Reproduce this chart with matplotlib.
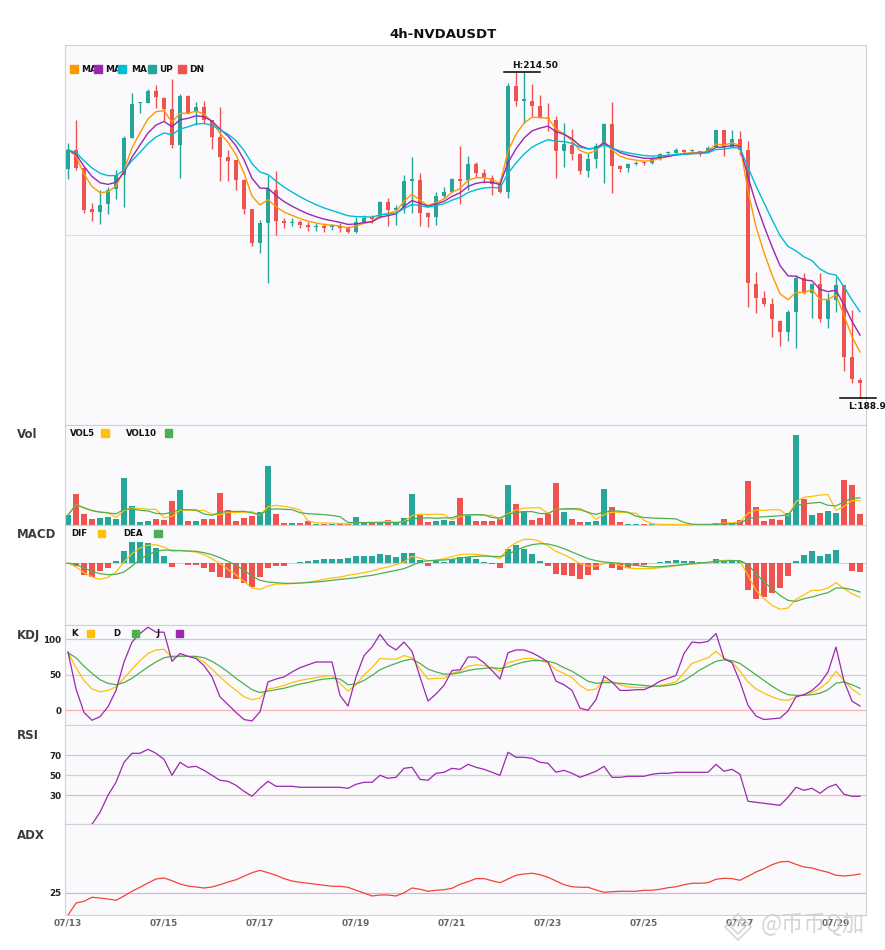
import matplotlib
matplotlib.use('Agg')
import matplotlib.pyplot as plt
from matplotlib.patches import Rectangle
from matplotlib.lines import Line2D
import numpy as np
import pandas as pd

plt.rcParams['font.family'] = ['DejaVu Sans']

W, H = 885, 950

# ---------------- data ----------------
date_labels = ['07/13', '07/15', '07/17', '07/19', '07/21', '07/23', '07/25', '07/27', '07/29']
date_pos = [0, 12, 24, 36, 48, 60, 72, 84, 96]

opens = [206.85, 208.37, 206.93, 203.74, 203.53, 204.11, 205.28, 206.41, 209.33, 212.02,
         212.08, 212.99, 212.47, 211.58, 208.76, 212.62, 211.37, 211.74, 210.72, 209.41,
         207.82, 207.58, 206.02, 203.74, 201.10, 202.67, 205.23, 202.80, 202.62, 202.72,
         202.51, 202.31, 202.36, 202.33, 202.41, 202.23, 201.97, 202.70, 203.06, 203.14,
         204.32, 203.66, 203.85, 205.96, 206.02, 203.46, 203.14, 204.76, 205.10, 206.09,
         206.02, 207.27, 206.54, 206.15, 205.70, 205.10, 213.38, 212.21, 212.21, 211.81,
         210.85, 210.72, 208.31, 208.76, 208.05, 206.75, 207.66, 208.68, 210.40, 207.13,
         206.92, 207.26, 207.39, 207.32, 207.66, 208.10, 208.10, 208.36, 208.26, 208.26,
         208.23, 208.62, 209.93, 208.62, 209.22, 208.36, 197.86, 196.79, 196.29, 194.99,
         194.12, 195.69, 198.36, 197.18, 197.86, 195.12, 196.61, 197.78, 192.17, 190.34]
highs = [208.89, 210.72, 207.00, 204.19, 205.23, 205.49, 206.80, 209.46, 212.81, 212.15,
         213.15, 213.46, 212.50, 213.93, 212.73, 212.65, 212.10, 212.21, 210.75, 211.74,
         208.37, 207.60, 206.05, 203.76, 202.88, 206.41, 206.72, 203.01, 203.01, 202.88,
         202.75, 202.62, 202.62, 202.57, 202.62, 202.44, 203.14, 203.27, 203.27, 204.40,
         204.63, 204.06, 206.41, 207.84, 206.54, 203.53, 205.10, 205.49, 206.20, 208.68,
         207.90, 207.45, 206.85, 206.41, 206.09, 213.64, 214.45, 214.50, 213.54, 212.68,
         212.02, 211.03, 210.51, 210.01, 208.11, 208.11, 208.89, 210.51, 212.15, 207.19,
         207.32, 207.50, 207.50, 207.84, 208.15, 208.31, 208.49, 208.41, 208.41, 208.31,
         208.67, 209.93, 209.95, 209.93, 209.85, 209.07, 198.77, 197.34, 196.74, 195.00,
         195.82, 198.57, 198.70, 197.91, 198.70, 197.13, 198.44, 197.80, 195.82, 190.47]
lows = [206.07, 206.80, 203.46, 202.80, 202.54, 203.33, 204.50, 203.93, 209.28, 211.29,
        212.02, 211.63, 210.64, 208.55, 206.15, 211.19, 210.33, 210.38, 208.47, 205.96,
        205.96, 205.23, 203.35, 200.87, 200.27, 197.97, 201.71, 202.28, 202.41, 202.23,
        202.04, 202.04, 201.97, 202.10, 201.97, 201.84, 201.89, 202.62, 202.62, 203.01,
        202.41, 202.49, 203.40, 203.40, 202.44, 202.36, 202.49, 204.63, 205.05, 204.13,
        205.23, 206.22, 205.81, 204.84, 204.97, 204.58, 211.81, 210.46, 211.03, 210.85,
        209.88, 206.15, 207.06, 207.58, 206.49, 206.28, 206.98, 205.81, 205.02, 206.66,
        206.66, 207.16, 207.21, 207.24, 207.58, 207.97, 208.02, 208.10, 208.10, 207.89,
        208.15, 208.62, 207.92, 208.60, 207.97, 196.08, 195.61, 196.14, 193.73, 193.00,
        193.42, 192.82, 197.08, 195.22, 194.91, 194.39, 195.69, 191.07, 190.13, 188.90]
closes = [208.37, 206.93, 203.66, 203.53, 204.06, 205.23, 206.41, 209.33, 211.97, 212.08,
          212.99, 212.49, 211.58, 208.76, 212.62, 211.24, 211.74, 210.72, 209.41, 207.84,
          207.53, 206.02, 203.74, 201.10, 202.67, 205.28, 202.83, 202.67, 202.70, 202.51,
          202.36, 202.36, 202.28, 202.38, 202.23, 201.97, 202.70, 203.06, 202.96, 204.32,
          203.66, 203.85, 205.94, 206.02, 203.46, 203.14, 204.76, 205.05, 206.09, 205.96,
          207.27, 206.59, 206.22, 205.70, 205.10, 213.38, 212.23, 212.23, 211.84, 210.85,
          210.77, 208.31, 208.84, 208.05, 206.75, 207.66, 208.68, 210.40, 207.14, 206.87,
          207.26, 207.37, 207.32, 207.63, 208.05, 208.15, 208.36, 208.21, 208.31, 208.18,
          208.49, 209.93, 208.62, 209.22, 208.36, 197.91, 196.79, 196.29, 195.09, 194.12,
          195.69, 198.36, 197.18, 197.86, 195.12, 196.61, 197.78, 192.17, 190.39, 190.13]

volumes = [30, 93, 33, 18, 21, 23, 18, 141, 57, 9,
           12, 18, 16, 73, 105, 12, 12, 18, 18, 96,
           45, 13, 21, 27, 39, 177, 33, 6, 6, 6,
           12, 3, 3, 3, 3, 3, 24, 6, 6, 6,
           15, 6, 21, 93, 30, 9, 12, 15, 12, 81,
           30, 12, 12, 12, 18, 120, 63, 42, 15, 21,
           33, 126, 39, 18, 9, 9, 12, 108, 54, 9,
           3, 3, 2, 2, 1, 1, 1, 2, 1, 1,
           2, 6, 18, 6, 15, 132, 54, 12, 18, 15,
           36, 273, 78, 30, 36, 42, 36, 135, 120, 33]

macd_dif = [0.00, -0.12, -0.29, -0.42, -0.49, -0.43, -0.27, 0.03, 0.28, 0.45,
            0.53, 0.55, 0.48, 0.35, 0.38, 0.35, 0.33, 0.25, 0.13, -0.02,
            -0.19, -0.35, -0.55, -0.75, -0.79, -0.69, -0.63, -0.63, -0.62, -0.60,
            -0.57, -0.54, -0.49, -0.45, -0.42, -0.37, -0.33, -0.29, -0.24, -0.17,
            -0.12, -0.05, 0.03, 0.20, 0.15, 0.06, 0.08, 0.13, 0.19, 0.25,
            0.27, 0.26, 0.23, 0.19, 0.13, 0.45, 0.61, 0.71, 0.71, 0.65,
            0.51, 0.35, 0.25, 0.13, -0.02, -0.09, -0.09, -0.02, 0.01, -0.07,
            -0.15, -0.17, -0.17, -0.17, -0.14, -0.12, -0.08, -0.05, -0.03, -0.01,
            0.01, 0.05, 0.08, 0.08, 0.06, -0.37, -0.82, -1.07, -1.27, -1.39,
            -1.35, -1.09, -0.95, -0.82, -0.82, -0.75, -0.59, -0.77, -0.92, -1.03]
macd_dea = [0.00, -0.05, -0.15, -0.25, -0.32, -0.35, -0.34, -0.27, -0.09, 0.11,
            0.25, 0.35, 0.39, 0.38, 0.37, 0.36, 0.35, 0.31, 0.25, 0.16,
            0.05, -0.07, -0.22, -0.39, -0.52, -0.57, -0.59, -0.61, -0.61, -0.60,
            -0.59, -0.57, -0.55, -0.52, -0.49, -0.47, -0.44, -0.40, -0.37, -0.32,
            -0.27, -0.22, -0.17, -0.07, 0.03, 0.07, 0.08, 0.09, 0.11, 0.15,
            0.18, 0.20, 0.21, 0.20, 0.19, 0.26, 0.38, 0.48, 0.55, 0.58,
            0.57, 0.51, 0.43, 0.33, 0.23, 0.13, 0.07, 0.03, 0.01, -0.01,
            -0.04, -0.07, -0.10, -0.12, -0.11, -0.09, -0.07, -0.05, -0.02, 0.00,
            0.02, 0.05, 0.06, 0.07, 0.07, -0.05, -0.32, -0.57, -0.77, -0.97,
            -1.12, -1.15, -1.07, -1.02, -0.95, -0.89, -0.75, -0.75, -0.80, -0.87]
macd_hist = [-0.02, -0.10, -0.35, -0.42, -0.25, -0.14, 0.06, 0.36, 0.63, 0.63,
             0.60, 0.46, 0.22, -0.12, -0.01, -0.05, -0.05, -0.14, -0.27, -0.42,
             -0.45, -0.47, -0.59, -0.72, -0.42, -0.14, -0.10, -0.08, 0.00, 0.04,
             0.06, 0.10, 0.13, 0.13, 0.13, 0.15, 0.20, 0.20, 0.22, 0.27,
             0.24, 0.18, 0.30, 0.30, 0.10, -0.08, 0.06, 0.03, 0.13, 0.18,
             0.18, 0.13, 0.02, -0.04, -0.14, 0.43, 0.53, 0.43, 0.27, 0.06,
             -0.08, -0.32, -0.37, -0.40, -0.47, -0.37, -0.20, 0.00, -0.14, -0.20,
             -0.14, -0.08, -0.05, 0.00, 0.04, 0.06, 0.08, 0.06, 0.06, 0.03,
             0.04, 0.12, 0.06, 0.06, 0.06, -0.80, -1.08, -1.01, -0.89, -0.74,
             -0.38, 0.06, 0.23, 0.36, 0.20, 0.27, 0.39, 0.00, -0.23, -0.27]

kdj_k = [82, 60, 42, 30, 26, 28, 33, 45, 58, 70,
         80, 85, 86, 74, 77, 76, 75, 68, 58, 47,
         37, 28, 19, 15, 17, 30, 32, 35, 39, 42,
         44, 46, 48, 49, 38, 27, 36, 50, 60, 73,
         72, 72, 77, 74, 58, 44, 45, 45, 52, 55,
         62, 64, 63, 60, 55, 67, 70, 73, 73, 70,
         67, 57, 52, 46, 35, 28, 30, 42, 40, 36,
         33, 32, 32, 33, 35, 37, 40, 53, 66, 70,
         74, 83, 73, 68, 55, 40, 30, 24, 19, 15,
         14, 19, 22, 25, 31, 40, 55, 42, 30, 22]
kdj_d = [81, 74, 62, 52, 43, 38, 36, 39, 45, 53,
         61, 68, 74, 76, 76, 76, 76, 74, 69, 62,
         54, 45, 37, 29, 25, 27, 29, 31, 34, 37,
         39, 42, 44, 45, 44, 36, 37, 42, 49, 57,
         62, 66, 70, 72, 66, 58, 54, 51, 51, 53,
         56, 58, 59, 60, 59, 61, 65, 68, 70, 70,
         69, 66, 60, 55, 48, 41, 38, 39, 39, 38,
         37, 36, 35, 34, 34, 35, 37, 42, 49, 57,
         63, 69, 71, 70, 66, 58, 50, 42, 34, 27,
         22, 21, 21, 22, 24, 29, 38, 40, 36, 31]
kdj_j = [82, 30, -3, -14, -9, 5, 28, 68, 96, 108,
         117, 110, 110, 69, 80, 76, 73, 63, 47, 19,
         8, -3, -13, -15, -2, 40, 44, 47, 54, 60,
         64, 68, 68, 68, 21, 6, 47, 77, 89, 107,
         92, 85, 96, 83, 47, 13, 23, 35, 56, 57,
         75, 75, 67, 56, 44, 81, 85, 85, 81, 75,
         68, 41, 36, 28, 3, 0, 15, 48, 40, 28,
         28, 29, 29, 34, 41, 45, 49, 80, 96, 95,
         97, 108, 73, 67, 40, 7, -8, -13, -12, -11,
         -1, 19, 22, 28, 38, 54, 89, 41, 13, 6]

rsi = [0, 0, 0, 1, 13, 30, 43, 63, 72, 72,
       76, 72, 66, 50, 63, 58, 59, 55, 50, 45,
       44, 40, 34, 29, 37, 44, 39, 39, 39, 38,
       38, 38, 38, 38, 38, 37, 41, 43, 43, 50,
       47, 48, 57, 58, 46, 45, 52, 53, 57, 56,
       61, 58, 56, 53, 50, 73, 68, 68, 67, 63,
       62, 53, 55, 52, 48, 51, 54, 59, 48, 48,
       49, 49, 49, 51, 52, 52, 53, 53, 53, 53,
       53, 61, 54, 56, 51, 24, 23, 22, 21, 20,
       28, 38, 35, 37, 32, 38, 41, 31, 29, 29]

adx = [0.0, 13.5, 15.4, 19.8, 19.0, 17.9, 16.5, 21.2, 26.4, 30.8,
       35.5, 39.9, 41.0, 38.0, 34.4, 32.2, 31.1, 30.0, 31.1, 33.6,
       36.6, 39.1, 42.9, 46.8, 49.4, 46.8, 44.0, 40.3, 37.7, 36.3,
       35.2, 34.1, 33.0, 31.9, 31.9, 30.8, 27.5, 24.5, 21.2, 22.3,
       22.3, 21.2, 24.8, 30.0, 28.6, 26.4, 27.5, 28.1, 29.7, 34.1,
       36.9, 40.3, 40.3, 38.0, 35.8, 39.9, 44.0, 45.4, 46.2, 44.6,
       41.8, 37.7, 33.6, 31.4, 30.8, 30.8, 27.8, 25.3, 25.9, 26.4,
       26.4, 26.4, 27.5, 27.5, 28.6, 30.3, 31.4, 33.6, 35.2, 35.2,
       35.8, 39.6, 40.7, 40.3, 38.5, 42.9, 47.6, 51.2, 55.6, 58.6,
       59.3, 56.0, 53.1, 52.0, 49.4, 47.3, 44.0, 43.2, 44.0, 45.4]

# ---------------- style ----------------
UP = '#26a69a'
DN = '#ef5350'
C_MA = ['#ff9800', '#9c27b0', '#00bcd4']
C_Y = '#ffc107'
C_G = '#4caf50'
C_P = '#9c27b0'
BG = '#fafafc'
SPINE = '#d0d0d8'

o = np.array(opens); h = np.array(highs); l = np.array(lows); c = np.array(closes)
n = len(c)
x = np.arange(n)
is_up = c >= o
cols = np.where(is_up, UP, DN)

fig = plt.figure(figsize=(W / 100, H / 100), dpi=100)
fig.patch.set_facecolor('white')

LPX, RPX = 65.3, 865.7
XL = (-(68 - LPX) / 8, (RPX - 68) / 8)


def add_ax(top, bot):
    ax = fig.add_axes([LPX / W, 1 - bot / H, (RPX - LPX) / W, (bot - top) / H])
    ax.set_facecolor(BG)
    for s in ax.spines.values():
        s.set_color(SPINE)
        s.set_linewidth(0.8)
    ax.set_xlim(*XL)
    ax.set_xticks([])
    ax.set_yticks([])
    return ax


def ftext(px, py, s, **kw):
    return fig.text(px / W, 1 - py / H, s, **kw)


def square(px, py, w, hh, color):
    fig.add_artist(Rectangle((px / W, 1 - (py + hh) / H), w / W, hh / H,
                             transform=fig.transFigure, color=color, zorder=5))


def ylabels(ax, ticks):
    ax.set_yticks(ticks)
    ax.set_yticklabels([str(t) for t in ticks])
    ax.tick_params(axis='y', length=0, pad=3, labelsize=6.3, labelcolor='#222222')
    for t in ax.get_yticklabels():
        t.set_fontweight('bold')


bounds = [45, 425, 525, 625, 724.5, 824.3, 915.3]

# ---------------- main price panel ----------------
ax = add_ax(bounds[0], bounds[1])
ylo, yhi = 186.81, 216.59
ax.set_ylim(ylo, yhi)
ax.axhline((ylo + yhi) / 2, color='#dcdce0', lw=0.8, zorder=0)
ax.vlines(x, l, h, colors=cols, lw=1.0, zorder=2)
body_b = np.minimum(o, c)
body_h = np.maximum(np.abs(c - o), 0.12)
ax.bar(x, body_h, bottom=body_b, width=0.62, color=cols, linewidth=0, zorder=3)
cs = pd.Series(c)
for span, col in zip([5, 8, 13], C_MA):
    ax.plot(x, cs.ewm(span=span, adjust=False).mean(), color=col, lw=1.0, zorder=4)

hi_i = int(np.argmax(h)); lo_i = int(np.argmin(l))
ax.plot([hi_i - 2.5, hi_i + 2], [h[hi_i]] * 2, color='black', lw=1.1, zorder=5)
ax.annotate(f'H:{h[hi_i]:.2f}', (hi_i - 1.5, h[hi_i]), xytext=(0, 4.8), textcoords='offset points',
            ha='left', va='center', fontsize=6.5, fontweight='bold', color='#111111')
ax.plot([lo_i - 2.5, lo_i + 2], [l[lo_i]] * 2, color='black', lw=1.1, zorder=5, clip_on=False)
ax.annotate(f'L:{l[lo_i]:.2f}', (lo_i - 1.5, l[lo_i]), xytext=(0, -6.0), textcoords='offset points',
            ha='left', va='center', fontsize=6.5, fontweight='bold', color='#111111')

# main legend
lg_y = 69
for sx, col in zip([70, 94.3, 118], C_MA):
    square(sx, 65.3, 7.6, 7.4, col)
for tx in [81, 105, 131]:
    ftext(tx, lg_y, 'MA', fontsize=6.4, fontweight='bold', va='center', ha='left', color='#111111')
square(148, 65.3, 7.6, 7.4, UP)
ftext(159, lg_y, 'UP', fontsize=6.4, fontweight='bold', va='center', ha='left', color='#111111')
square(178, 65.3, 7.6, 7.4, DN)
ftext(189, lg_y, 'DN', fontsize=6.4, fontweight='bold', va='center', ha='left', color='#111111')

# ---------------- volume ----------------
axv = add_ax(bounds[1], bounds[2])
axv.set_ylim(0, 302)
axv.bar(x, volumes, width=0.7, color=cols, linewidth=0, zorder=2)
vs = pd.Series(volumes, dtype=float)
axv.plot(x, vs.rolling(5, min_periods=1).mean(), color=C_Y, lw=0.9, zorder=3)
axv.plot(x, vs.rolling(10, min_periods=1).mean(), color=C_G, lw=0.9, zorder=3)
ftext(70, 433.3, 'VOL5', fontsize=6.2, fontweight='bold', va='center', ha='left', color='#111111')
square(101, 429.5, 7.5, 7.4, C_Y)
ftext(126, 433.3, 'VOL10', fontsize=6.2, fontweight='bold', va='center', ha='left', color='#111111')
square(164.5, 429.5, 7.0, 7.4, C_G)

# ---------------- MACD ----------------
axm = add_ax(bounds[2], bounds[3])
axm.set_ylim(-1.86, 1.14)
axm.axhline(0, color='#cfcfd4', lw=0.8, zorder=0)
hist = np.array(macd_hist)
axm.bar(x, hist, width=0.7, color=np.where(hist >= 0, UP, DN), linewidth=0, zorder=2)
axm.plot(x, macd_dif, color=C_Y, lw=0.9, zorder=3)
axm.plot(x, macd_dea, color=C_G, lw=0.9, zorder=3)
ftext(71, 534, 'DIF', fontsize=6.2, fontweight='bold', va='center', ha='left', color='#111111')
square(97.6, 529.8, 7.8, 7.4, C_Y)
ftext(123.6, 534, 'DEA', fontsize=6.2, fontweight='bold', va='center', ha='left', color='#111111')
square(154, 529.8, 7.8, 7.4, C_G)

# ---------------- KDJ ----------------
axk = add_ax(bounds[3], bounds[4])
axk.set_ylim(-20.0, 120.1)
axk.axhline(100, color='#a9dada', lw=0.9, zorder=0)
axk.axhline(50, color='#cfcfd4', lw=0.9, zorder=0)
axk.axhline(0, color='#f6b3b3', lw=0.9, zorder=0)
axk.plot(x, kdj_k, color=C_Y, lw=0.9, zorder=3)
axk.plot(x, kdj_d, color=C_G, lw=0.9, zorder=3)
axk.plot(x, kdj_j, color=C_P, lw=0.9, zorder=3)
ylabels(axk, [0, 50, 100])
ftext(71, 633.7, 'K', fontsize=6.2, fontweight='bold', va='center', ha='left', color='#111111')
square(87, 629.5, 7.4, 7.4, C_Y)
ftext(113, 633.7, 'D', fontsize=6.2, fontweight='bold', va='center', ha='left', color='#111111')
square(131.6, 629.5, 7.4, 7.4, C_G)
ftext(157, 633.7, 'J', fontsize=6.2, fontweight='bold', va='center', ha='left', color='#111111')
square(176, 629.5, 7.4, 7.4, C_P)

# ---------------- RSI ----------------
axr = add_ax(bounds[4], bounds[5])
axr.set_ylim(1.0, 100.8)
axr.axhline(70, color='#a9dada', lw=0.9, zorder=0)
axr.axhline(50, color='#cfcfd4', lw=0.9, zorder=0)
axr.axhline(30, color='#f6b3b3', lw=0.9, zorder=0)
axr.plot(x, rsi, color=C_P, lw=0.9, zorder=3)
ylabels(axr, [30, 50, 70])

# ---------------- ADX ----------------
axa = add_ax(bounds[5], bounds[6])
axa.set_ylim(0, 100)
axa.axhline(25, color='#dcaee6', lw=0.9, zorder=0)
axa.plot(x, adx, color='#f44336', lw=0.9, zorder=3)
ylabels(axa, [25])
axa.set_xticks(date_pos)
axa.set_xticklabels(date_labels)
axa.tick_params(axis='x', length=0, pad=2.5, labelsize=6.5, labelcolor='#666666')
for t in axa.get_xticklabels():
    t.set_fontweight('bold')

# ---------------- panel labels & title ----------------
for lbl, py in [('Vol', 435), ('MACD', 535), ('KDJ', 635), ('RSI', 735.3), ('ADX', 835.3)]:
    ftext(17, py, lbl, fontsize=8.5, fontweight='bold', va='center', ha='left', color='#3c3c3c')

ftext(443, 34, '4h-NVDAUSDT', fontsize=9.5, fontweight='bold', ha='center', va='center', color='#111111')

# watermark (logo + text)
for dx, ms in [(0, 13), (0, 7)]:
    fig.add_artist(Line2D([(738 + dx) / W], [1 - 927 / H], marker='D', markersize=ms,
                          markerfacecolor='none', markeredgecolor='#d2d2d2', markeredgewidth=1.2,
                          linestyle='none', transform=fig.transFigure, zorder=6, alpha=0.9))
ftext(761, 925, '@币币Q加', fontsize=16, color='#cdcdcd', ha='left', va='center',
      family=['Noto Sans CJK SC', 'DejaVu Sans'], alpha=0.85, zorder=6)

fig.savefig('out.png', dpi=100, facecolor='white')
